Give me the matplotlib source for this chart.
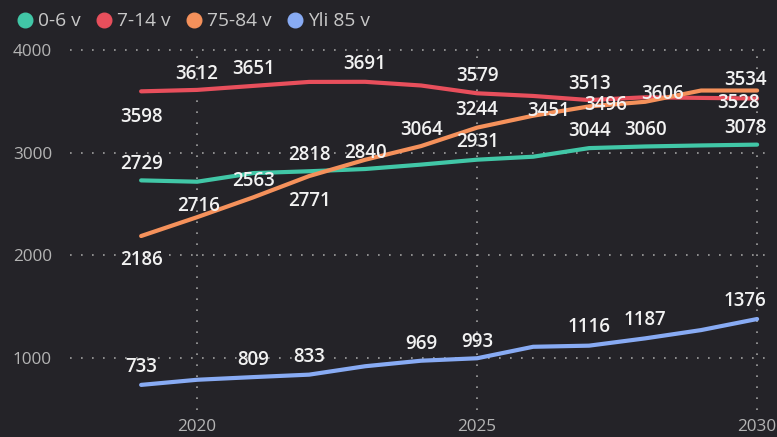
import matplotlib
matplotlib.use("Agg")
import matplotlib.pyplot as plt
from matplotlib.lines import Line2D

plt.rcParams['font.family'] = ['Open Sans', 'DejaVu Sans']

# ---- data ----
years = list(range(2019, 2031))
series_names = ['0-6 v', '7-14 v', '75-84 v', 'Yli 85 v']
age_0_6 = [2729, 2716, 2800, 2818, 2840, 2883, 2931, 2960, 3044, 3060, 3070, 3078]
age_7_14 = [3598, 3612, 3651, 3690, 3691, 3655, 3579, 3553, 3513, 3540, 3534, 3528]
age_75_84 = [2186, 2370, 2563, 2771, 2930, 3064, 3244, 3360, 3451, 3496, 3606, 3606]
age_85 = [733, 783, 809, 833, 915, 969, 993, 1105, 1116, 1187, 1268, 1376]
x_ticks = [2020, 2025, 2030]
y_ticks = [1000, 2000, 3000, 4000]

# ---- style ----
colors = ['#41c7a7', '#e84f5c', '#f5915b', '#88abf4']
BG = '#242328'
# label placement per series: (index, dx px, dy px downward)
label_layout = [
    [(0, 0, -18), (1, 1, 23), (3, 0, -18), (4, 0, -18), (6, 0, -19),
     (8, 0, -19), (9, 0, -18), (11, -12, -18)],
    [(0, 0, 24), (1, 0, -18), (2, 0, -19), (4, 0, -19), (6, 0, -19),
     (8, 0, -18), (10, 44, -19), (11, -19, 3)],
    [(0, 0, 22), (2, 0, -18), (3, 0, 23), (5, 0, -18), (6, 0, -19),
     (8, -41, 3), (9, -39, 2), (10, -39, 2)],
    [(0, 0, -19), (2, 0, -19), (3, 0, -19), (5, 0, -18), (6, 0, -18),
     (8, 0, -20), (9, 0, -20), (11, -12, -20)],
]

all_series = [age_0_6, age_7_14, age_75_84, age_85]

W, H = 777, 437
fig = plt.figure(figsize=(W / 100, H / 100), dpi=100, facecolor=BG)
ax = fig.add_axes([70 / W, 1 - 410 / H, 700 / W, 362 / H])
ax.set_facecolor(BG)

for vals, c in zip(all_series, colors):
    ax.plot(years, vals, color=c, lw=3.0, solid_capstyle='round',
            solid_joinstyle='round', zorder=3)

for vals, layout in zip(all_series, label_layout):
    for idx, dx, dy in layout:
        ax.annotate(str(vals[idx]), xy=(years[idx], vals[idx]),
                    xytext=(dx, -(dy + 6.6)), textcoords='offset pixels',
                    ha='center', va='baseline', color='#f2f2f2',
                    fontsize=13.5, fontweight='semibold', zorder=5,
                    annotation_clip=False)

ax.set_xlim(2017.73, 2030.23)
ax.set_ylim(488, 4021)
ax.set_xticks(x_ticks)
ax.set_yticks(y_ticks)
ax.set_xticklabels([str(t) for t in x_ticks])
ax.set_yticklabels([str(t) for t in y_ticks])
for s in ax.spines.values():
    s.set_visible(False)
ax.tick_params(axis='both', length=0, colors='#b4b4b4', labelsize=12.3)
ax.tick_params(axis='y', pad=13)
ax.tick_params(axis='x', pad=6.5)
ax.grid(True, color='#a0a0a0', linestyle=(0, (1, 5.6)), linewidth=1.2, zorder=1)
ax.set_axisbelow(True)

handles = [Line2D([], [], marker='o', ls='', color=c, markersize=10.5)
           for c in colors]
leg = fig.legend(handles, series_names, loc='upper left',
                 bbox_to_anchor=(0.0, 1.0), ncol=4, frameon=False,
                 handletextpad=0.05, columnspacing=0.55, handlelength=1.3,
                 fontsize=13.8, labelcolor='#c8c8c8', borderaxespad=0.25)

fig.savefig('out.png', dpi=100, facecolor=BG)
